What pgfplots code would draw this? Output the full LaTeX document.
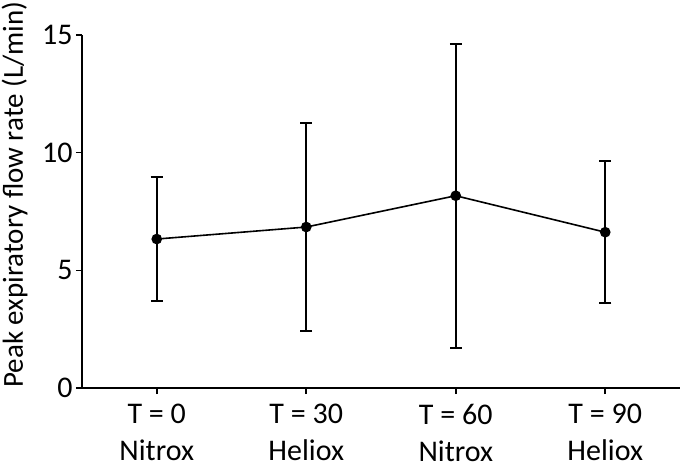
\documentclass[border=0pt]{standalone}
\usepackage{fontspec}
\setmainfont{Carlito}
\usepackage{pgfplots}
\pgfplotsset{compat=1.18}
\begin{document}
\begin{tikzpicture}
\begin{axis}[
  scale only axis,
  width=598bp, height=353bp,
  xmin=-0.5, xmax=3.5,
  ymin=0, ymax=15,
  axis x line=bottom, axis y line=left,
  axis line style={line width=1.6bp, -},
  xtick=data,
  xticklabels={{T = 0\\[3bp]Nitrox},{T = 30\\[3bp]Heliox},{T = 60\\[3bp]Nitrox},{T = 90\\[3bp]Heliox}},
  xticklabel style={align=center, font=\fontsize{30bp}{34bp}\selectfont, yshift=-7bp},
  ytick={0,5,10,15},
  tick align=outside,
  major tick length=6bp,
  tick style={line width=1.6bp, black},
  /pgf/number format/assume math mode=true,
  yticklabel style={font=\fontsize{30bp}{34bp}\selectfont},
  ylabel={Peak expiratory flow rate (L/min)},
  ylabel style={font=\fontsize{29bp}{34bp}\selectfont, at={(axis description cs:-0.085,0.548)}},
]
\addplot[black, line width=1.6bp, mark=*, mark size=4.5bp,
  error bars/.cd, y dir=both, y explicit,
  error bar style={line width=1.8bp},
  error mark options={rotate=90, mark size=6bp, line width=1.8bp}]
  table[x=x, y=y, y error=e] {
x y e
0 6.33 2.64
1 6.84 4.43
2 8.17 6.46
3 6.62 3.02
};
\end{axis}
\pgfresetboundingbox
\path[use as bounding box] ([shift={(-82bp,-84bp)}]current axis.south west) rectangle ([shift={(5bp,35bp)}]current axis.north east);
\end{tikzpicture}
\end{document}
